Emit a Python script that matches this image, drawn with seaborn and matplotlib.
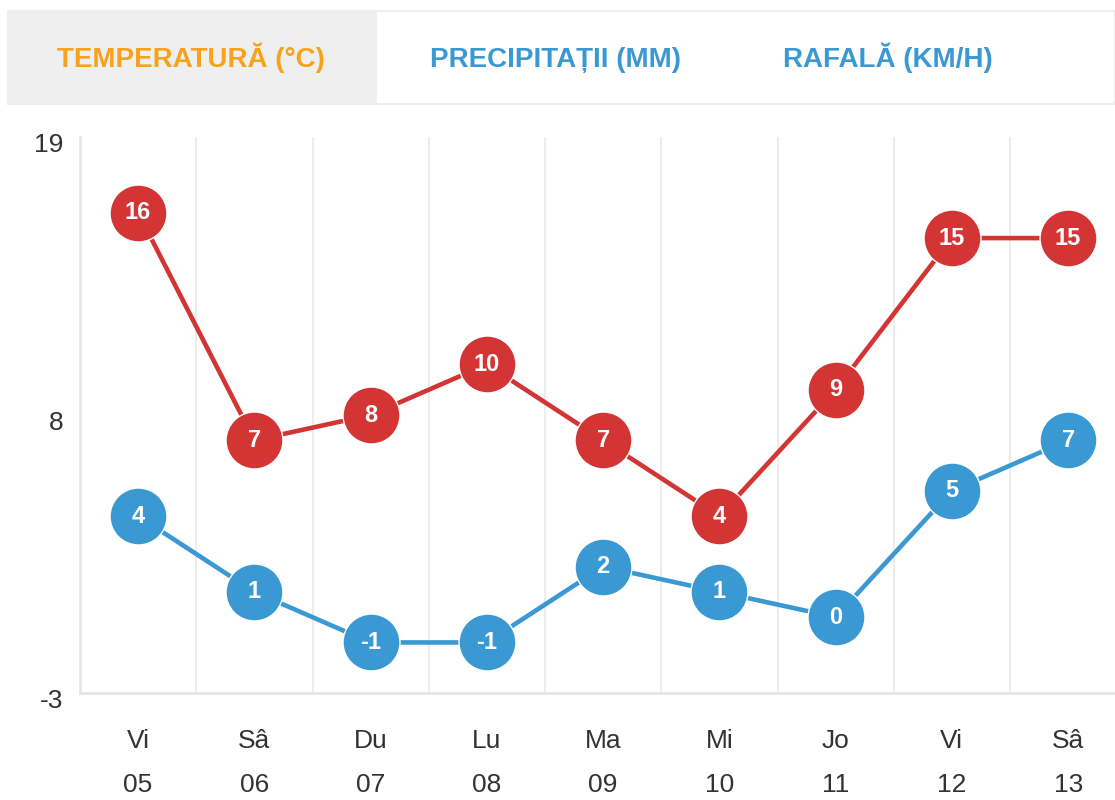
import matplotlib.pyplot as plt
import matplotlib.transforms as mtransforms
from matplotlib.patches import Rectangle
import numpy as np
import pandas as pd
import seaborn as sns

days = ['Vi', 'Sâ', 'Du', 'Lu', 'Ma', 'Mi', 'Jo', 'Vi', 'Sâ']
dates = ['05', '06', '07', '08', '09', '10', '11', '12', '13']
temp_max = [16, 7, 8, 10, 7, 4, 9, 15, 15]
temp_min = [4, 1, -1, -1, 2, 1, 0, 5, 7]
y_ticks = [-3, 8, 19]
tabs = ['TEMPERATURĂ (°C)', 'PRECIPITAȚII (MM)', 'RAFALĂ (KM/H)']

red = '#d33434'
blue = '#3a98d3'
orange = '#f7a21b'
text_col = '#333333'

sns.set_style('white')
plt.rcParams['font.family'] = ['Liberation Sans', 'DejaVu Sans']
plt.rcParams['axes.unicode_minus'] = False

pos = np.arange(len(days))
df = pd.DataFrame({
    'pos': np.concatenate([pos, pos]),
    'value': temp_max + temp_min,
    'series': ['max'] * len(pos) + ['min'] * len(pos),
})

fig = plt.figure(figsize=(11.15, 8), dpi=100)
ax = fig.add_axes([80 / 1115, 107 / 800, 1035 / 1115, 556 / 800])

sns.lineplot(data=df, x='pos', y='value', hue='series', palette={'max': red, 'min': blue},
             marker='o', markersize=41, linewidth=3.3, markeredgecolor='white',
             markeredgewidth=1, legend=False, ax=ax)

for i in range(len(pos)):
    ax.text(pos[i], temp_max[i], str(temp_max[i]), ha='center', va='center',
            color='white', fontsize=17, fontweight='bold', zorder=5)
    ax.text(pos[i], temp_min[i], str(temp_min[i]), ha='center', va='center',
            color='white', fontsize=17, fontweight='bold', zorder=5)

ax.set_xlim(-0.5, -0.5 + 1035 / 116.25)
ax.set_ylim(-3, 19)
ax.set_yticks(y_ticks)
ax.set_xticks(pos)
ax.set_xticklabels([d + '\n' + n for d, n in zip(days, dates)], linespacing=2.05)
ax.set_xticks(pos[:-1] + 0.5, minor=True)
ax.grid(True, which='minor', axis='x', color='#ebebeb', linewidth=1.3)
ax.grid(False, which='major')
ax.tick_params(axis='both', which='both', length=0, labelsize=19, colors=text_col)
ax.tick_params(axis='y', pad=12)
ax.tick_params(axis='x', pad=26)
ax.set_xlabel('')
ax.set_ylabel('')

offset = mtransforms.ScaledTranslation(0, -6 / 100, fig.dpi_scale_trans)
for lab in ax.get_yticklabels():
    lab.set_transform(lab.get_transform() + offset)

for s in ['top', 'right']:
    ax.spines[s].set_visible(False)
ax.spines['left'].set_color('#e6e6e6')
ax.spines['left'].set_linewidth(2)
ax.spines['bottom'].set_color('#e6e6e6')
ax.spines['bottom'].set_linewidth(2.2)

# tab bar on top
fig.patches.append(Rectangle((8 / 1115, 1 - 104 / 800), 1107 / 1115, 93 / 800,
                             transform=fig.transFigure, facecolor='white',
                             edgecolor='#eeeeee', linewidth=1.5))
fig.patches.append(Rectangle((8 / 1115, 1 - 104 / 800), 369 / 1115, 93 / 800,
                             transform=fig.transFigure, facecolor='#efefef',
                             edgecolor='none'))
tab_x = [191, 555, 888]
tab_col = [orange, blue, blue]
for t, x, c in zip(tabs, tab_x, tab_col):
    fig.text(x / 1115, 1 - 67 / 800, t, ha='center', va='baseline', color=c,
             fontsize=20, fontweight='bold')

fig.savefig('out.png', dpi=100)
